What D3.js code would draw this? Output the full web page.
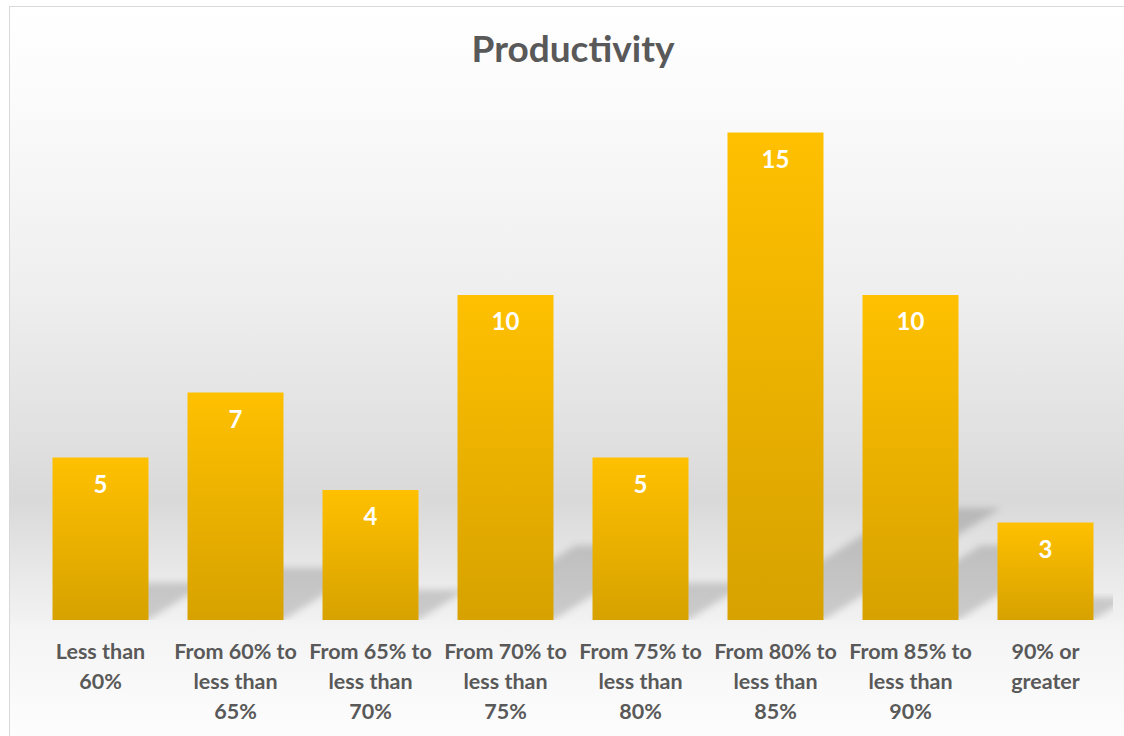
<!DOCTYPE html>
<html>
<head>
<meta charset="utf-8">
<script src="https://cdn.jsdelivr.net/npm/d3@7"></script>
<style>
  html, body { margin: 0; padding: 0; background: #ffffff; }
  svg { display: block; }
</style>
</head>
<body>
<svg id="chart" width="1124" height="736"></svg>
<script>
// Productivity distribution: number of people per productivity band
const categories = [
  ["Less than", "60%"],
  ["From 60% to", "less than", "65%"],
  ["From 65% to", "less than", "70%"],
  ["From 70% to", "less than", "75%"],
  ["From 75% to", "less than", "80%"],
  ["From 80% to", "less than", "85%"],
  ["From 85% to", "less than", "90%"],
  ["90% or", "greater"]
];
const categoryKeys = categories.map(c => c.join(" "));
const counts = [5, 7, 4, 10, 5, 15, 10, 3];
const yMax = 16;
const title = "Productivity";

const W = 1124, H = 736;
const plot = { left: 33, right: 1113, top: 100, bottom: 620 };
const FONT = "Lato, 'Open Sans', sans-serif";

const svg = d3.select("#chart");
const defs = svg.append("defs");

// chart-area background: soft grey band behind the lower half of the bars
const bg = defs.append("linearGradient")
  .attr("id", "bgGrad").attr("gradientUnits", "userSpaceOnUse")
  .attr("x1", 0).attr("y1", 7).attr("x2", 0).attr("y2", H);
[[7, "#ffffff"], [100, "#fbfbfb"], [300, "#eeeeee"], [440, "#e0e0e0"],
 [500, "#d9d9d9"], [580, "#eaeaea"], [618, "#f1f1f1"], [625, "#f4f4f4"], [736, "#fdfdfd"]]
  .forEach(([y, c]) => bg.append("stop").attr("offset", (y - 7) / (H - 7)).attr("stop-color", c));

// gold fill, darker towards the base of each bar
const barGrad = defs.append("linearGradient")
  .attr("id", "barGrad").attr("x1", 0).attr("y1", 0).attr("x2", 0).attr("y2", 1);
barGrad.append("stop").attr("offset", 0).attr("stop-color", "#ffc000");
barGrad.append("stop").attr("offset", 1).attr("stop-color", "#d7a200");

defs.append("filter").attr("id", "shadowBlur")
  .attr("x", "-20%").attr("y", "-20%").attr("width", "140%").attr("height", "140%")
  .append("feGaussianBlur").attr("stdDeviation", 3.5);

defs.append("clipPath").attr("id", "plotClip")
  .append("rect")
  .attr("x", plot.left).attr("y", plot.top)
  .attr("width", plot.right - plot.left).attr("height", plot.bottom - plot.top);

// chart frame and background
svg.append("rect")
  .attr("x", 9.5).attr("y", 6.5).attr("width", W).attr("height", H)
  .attr("fill", "url(#bgGrad)").attr("stroke", "#d9d9d9").attr("stroke-width", 1);

const x = d3.scaleBand()
  .domain(categoryKeys)
  .range([plot.left, plot.right])
  .paddingInner(0.289).paddingOuter(0.1445);

const y = d3.scaleLinear().domain([0, yMax]).range([plot.bottom, plot.top]);

const data = counts.map((v, i) => ({ key: categoryKeys[i], lines: categories[i], value: v }));

// perspective shadows cast up and to the right of each bar
const skew = 0.364, squash = 0.23;
svg.append("g").attr("clip-path", "url(#plotClip)")
  .selectAll("path").data(data).join("path")
  .attr("d", d => {
    const x0 = x(d.key), x1 = x0 + x.bandwidth();
    const base = y(0), h = base - y(d.value);
    const dx = skew * h, top = base - squash * h;
    return `M${x0},${base}L${x1},${base}L${x1 + dx},${top}L${x0 + dx},${top}Z`;
  })
  .attr("fill", "#000").attr("fill-opacity", 0.16)
  .attr("filter", "url(#shadowBlur)");

// bars
svg.append("g").selectAll("rect").data(data).join("rect")
  .attr("x", d => x(d.key))
  .attr("y", d => y(d.value))
  .attr("width", x.bandwidth())
  .attr("height", d => y(0) - y(d.value))
  .attr("fill", "url(#barGrad)");

// value labels inside the top of each bar
svg.append("g").selectAll("text").data(data).join("text")
  .attr("x", d => x(d.key) + x.bandwidth() / 2)
  .attr("y", d => y(d.value) + 35)
  .attr("text-anchor", "middle")
  .attr("font-family", FONT).attr("font-weight", 700).attr("font-size", 24)
  .attr("fill", "#ffffff")
  .text(d => d.value);

// category axis labels (no axis line drawn)
const xAxis = d3.axisBottom(x).tickSize(0).tickFormat("");
const axisG = svg.append("g").attr("transform", `translate(0,${plot.bottom})`).call(xAxis);
axisG.select(".domain").remove();
axisG.selectAll(".tick").each(function(key, i) {
  const t = d3.select(this).append("text")
    .attr("text-anchor", "middle")
    .attr("font-family", FONT).attr("font-weight", 700).attr("font-size", 21.5)
    .attr("fill", "#595959");
  categories[i].forEach((line, j) => {
    t.append("tspan").attr("x", 0).attr("y", 39 + j * 30).text(line);
  });
});

// title
svg.append("text")
  .attr("x", 573).attr("y", 62)
  .attr("text-anchor", "middle")
  .attr("font-family", FONT).attr("font-weight", 700).attr("font-size", 37)
  .attr("fill", "#595959")
  .text(title);
</script>
</body>
</html>
